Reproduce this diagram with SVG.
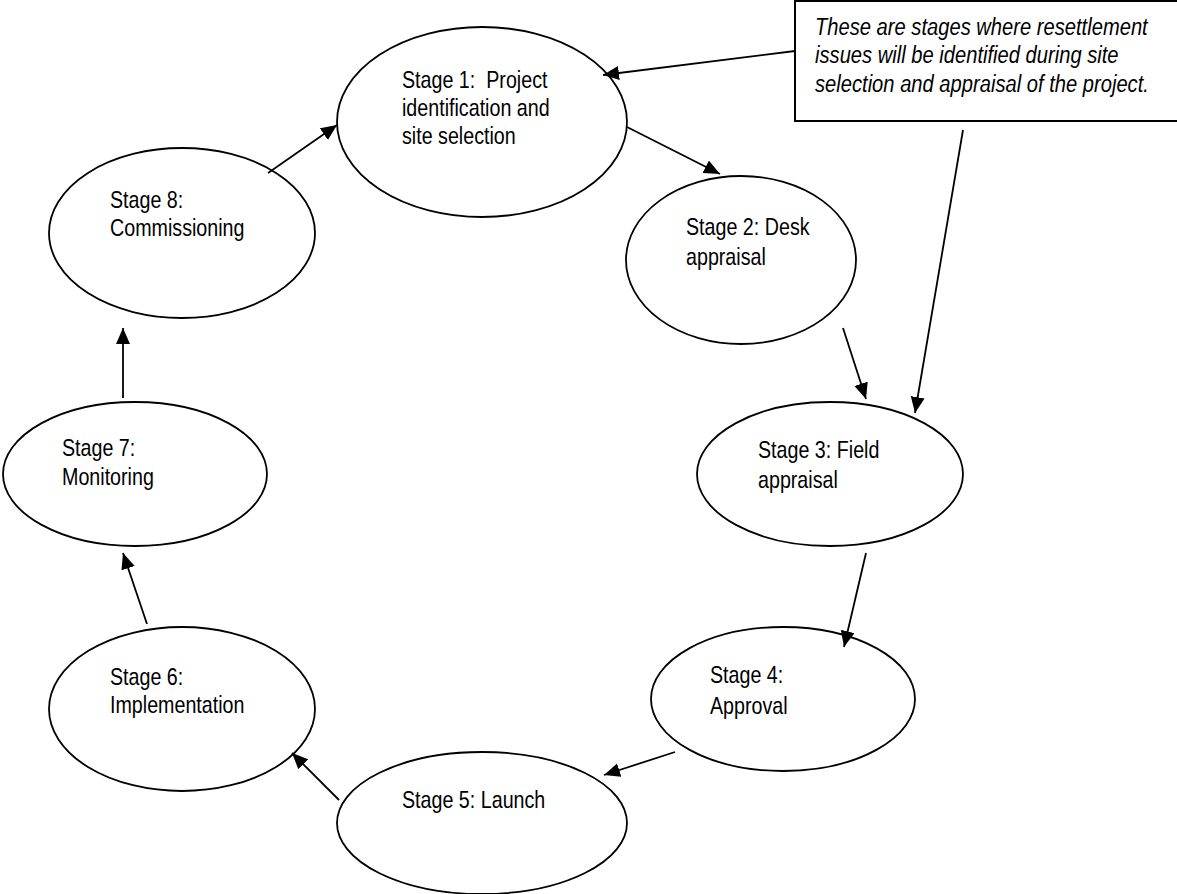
<svg xmlns="http://www.w3.org/2000/svg" width="1177" height="894" viewBox="0 0 1177 894">
<style>
.node ellipse{fill:#fff;stroke:#000;stroke-width:1.8}
.lbl{font-family:"Liberation Sans",Arial,sans-serif;font-size:24px;fill:#000;white-space:pre}
.note{font-family:"Liberation Sans",Arial,sans-serif;font-size:24px;font-style:italic;fill:#000}
.conn line{stroke:#000;stroke-width:1.8;marker-end:url(#ah)}
</style>
<defs>
<marker id="ah" markerUnits="userSpaceOnUse" markerWidth="17" markerHeight="15" refX="16" refY="7" orient="auto">
<path d="M0,0 L16,7 L0,14 z" fill="#000"/>
</marker>
</defs>
<rect width="1177" height="894" fill="#fff"/>
<g id="note">
<rect x="795" y="1" width="400" height="120" fill="#fff" stroke="#000" stroke-width="2"/>
<g transform="translate(815,0) scale(0.84,1)">
<text class="note" x="0" y="35">These are stages where resettlement</text>
<text class="note" x="0" y="63">issues will be identified during site</text>
<text class="note" x="0" y="92">selection and appraisal of the project.</text>
</g>
</g>
<g id="stage1" class="node">
<ellipse cx="482" cy="122" rx="145" ry="95"/>
<g transform="translate(402,0) scale(0.82,1)">
<text class="lbl" x="0" y="88">Stage 1:  Project</text>
<text class="lbl" x="0" y="116">identification and</text>
<text class="lbl" x="0" y="144">site selection</text>
</g>
</g>
<g id="stage2" class="node">
<ellipse cx="741" cy="260" rx="115" ry="84"/>
<g transform="translate(686,0) scale(0.82,1)">
<text class="lbl" x="0" y="235">Stage 2: Desk</text>
<text class="lbl" x="0" y="265">appraisal</text>
</g>
</g>
<g id="stage3" class="node">
<ellipse cx="830" cy="474" rx="133" ry="72"/>
<g transform="translate(758,0) scale(0.82,1)">
<text class="lbl" x="0" y="458">Stage 3: Field</text>
<text class="lbl" x="0" y="488">appraisal</text>
</g>
</g>
<g id="stage4" class="node">
<ellipse cx="783" cy="699" rx="132" ry="72"/>
<g transform="translate(710,0) scale(0.82,1)">
<text class="lbl" x="0" y="683">Stage 4:</text>
<text class="lbl" x="0" y="714">Approval</text>
</g>
</g>
<g id="stage5" class="node">
<ellipse cx="482" cy="823" rx="145" ry="71"/>
<g transform="translate(402,0) scale(0.82,1)">
<text class="lbl" x="0" y="808">Stage 5: Launch</text>
</g>
</g>
<g id="stage6" class="node">
<ellipse cx="182" cy="709" rx="133" ry="82"/>
<g transform="translate(110,0) scale(0.82,1)">
<text class="lbl" x="0" y="685">Stage 6:</text>
<text class="lbl" x="0" y="713">Implementation</text>
</g>
</g>
<g id="stage7" class="node">
<ellipse cx="135" cy="474" rx="132" ry="72"/>
<g transform="translate(62,0) scale(0.82,1)">
<text class="lbl" x="0" y="456">Stage 7:</text>
<text class="lbl" x="0" y="485">Monitoring</text>
</g>
</g>
<g id="stage8" class="node">
<ellipse cx="182" cy="233" rx="133" ry="85"/>
<g transform="translate(110,0) scale(0.82,1)">
<text class="lbl" x="0" y="208">Stage 8:</text>
<text class="lbl" x="0" y="236">Commissioning</text>
</g>
</g>
<g id="connectors" class="conn">
<line x1="795" y1="51" x2="603" y2="75"/>
<line x1="963" y1="130" x2="915" y2="413"/>
<line x1="627" y1="127" x2="720" y2="174"/>
<line x1="843" y1="328" x2="866" y2="399"/>
<line x1="866" y1="553" x2="844" y2="647"/>
<line x1="675" y1="752" x2="604" y2="775"/>
<line x1="339" y1="800" x2="292" y2="753"/>
<line x1="147" y1="624" x2="123" y2="553"/>
<line x1="123" y1="398" x2="123" y2="328"/>
<line x1="268" y1="173" x2="337" y2="125"/>
</g>
</svg>
